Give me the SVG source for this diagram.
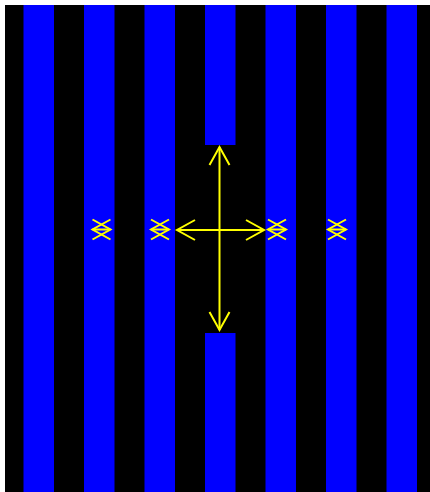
<svg xmlns="http://www.w3.org/2000/svg" width="430" height="492" viewBox="0 0 430 492">
  <style>
    .bar { fill: #0000ff; }
    .arr { stroke: #ffff00; stroke-width: 2; fill: none; marker-start: url(#head); marker-end: url(#head); }
  </style>
  <defs>
    <marker id="head" markerUnits="userSpaceOnUse" viewBox="-21 -12 24 24" refX="0" refY="0" markerWidth="24" markerHeight="24" orient="auto-start-reverse" overflow="visible">
      <path d="M-18,-10 L0,0 L-18,10" fill="none" stroke="#ffff00" stroke-width="2"/>
    </marker>
  </defs>
  <rect x="0" y="0" width="430" height="492" fill="#ffffff"/>
  <rect id="background" x="5" y="5" width="425" height="487" fill="#000000"/>
  <g id="stripes">
    <rect class="bar" x="23.5" y="5" width="30.5" height="487"/>
    <rect class="bar" x="84" y="5" width="30.5" height="487"/>
    <rect class="bar" x="144.5" y="5" width="30.5" height="487"/>
    <rect class="bar" x="205" y="5" width="30.5" height="140"/>
    <rect class="bar" x="205" y="333" width="30.5" height="159"/>
    <rect class="bar" x="265.5" y="5" width="30.5" height="487"/>
    <rect class="bar" x="326" y="5" width="30.5" height="487"/>
    <rect class="bar" x="386.5" y="5" width="30.5" height="487"/>
  </g>
  <g id="connectors">
    <line class="arr" x1="219.5" y1="147" x2="219.5" y2="330"/>
    <line class="arr" x1="177" y1="230" x2="264" y2="230"/>
    <line class="arr" x1="92.5" y1="229.5" x2="110.5" y2="229.5"/>
    <line class="arr" x1="151" y1="229.5" x2="169" y2="229.5"/>
    <line class="arr" x1="268" y1="229.5" x2="286" y2="229.5"/>
    <line class="arr" x1="328" y1="229.5" x2="346" y2="229.5"/>
  </g>
</svg>
